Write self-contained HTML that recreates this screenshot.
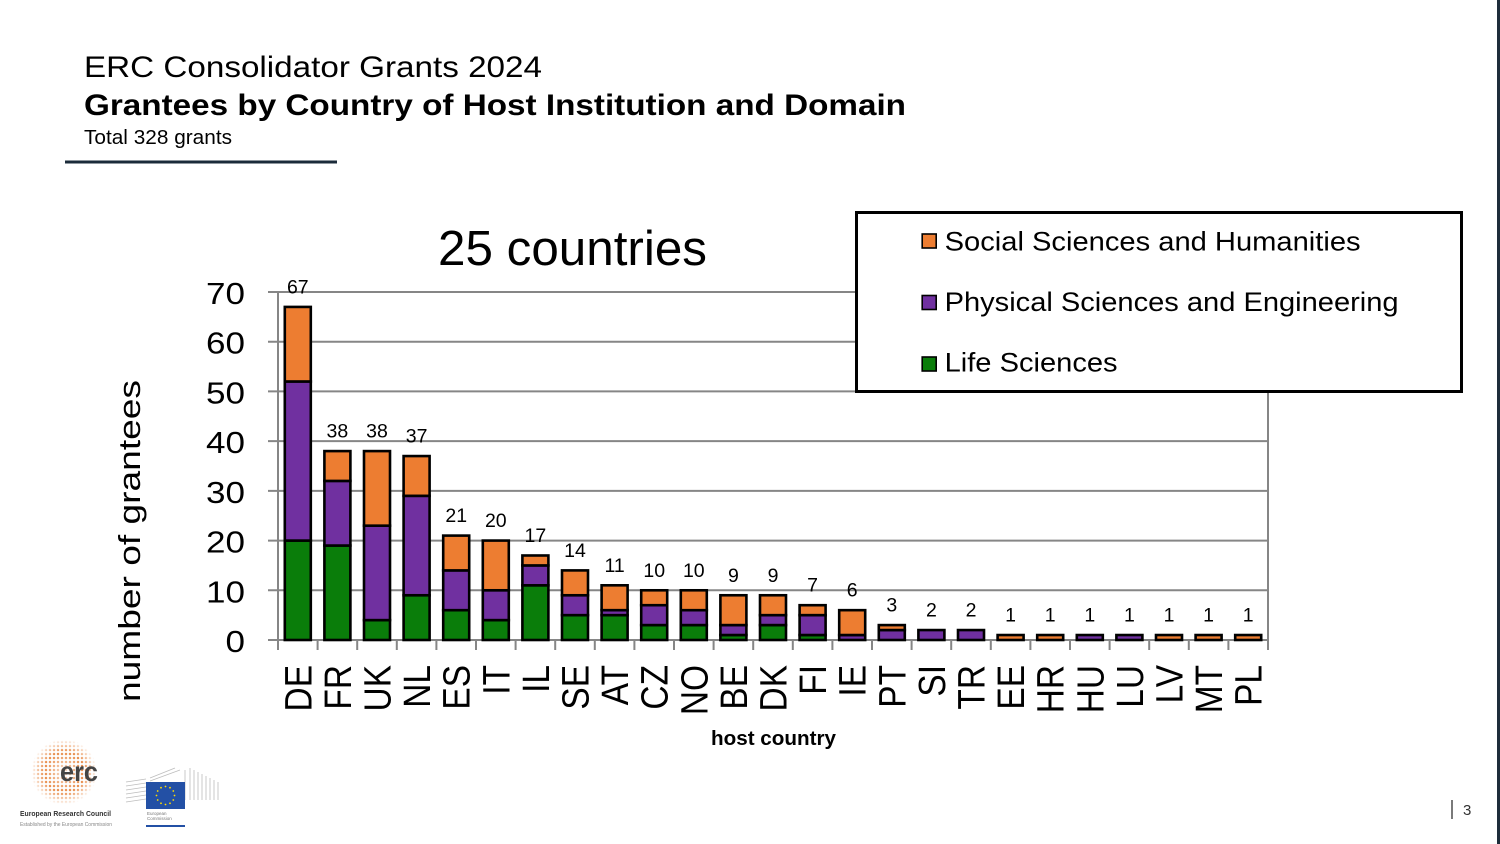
<!DOCTYPE html>
<html><head><meta charset="utf-8"><style>
html,body{margin:0;padding:0;background:#fff;}
svg{display:block;font-family:"Liberation Sans",Arial,sans-serif;}
</style></head><body>
<svg width="1500" height="844" viewBox="0 0 1500 844" xmlns="http://www.w3.org/2000/svg">
<defs>
<pattern id="dots" width="4" height="4" patternUnits="userSpaceOnUse"><circle cx="2" cy="2" r="1.25" fill="#e6823a"/></pattern>
<radialGradient id="fade" cx="0.5" cy="0.5" r="0.5">
<stop offset="0" stop-color="#fff" stop-opacity="0.25"/>
<stop offset="0.6" stop-color="#fff" stop-opacity="0.9"/>
<stop offset="1" stop-color="#fff" stop-opacity="0"/>
</radialGradient>
<mask id="m"><circle cx="64" cy="772" r="33" fill="url(#fade)"/></mask>
</defs>
<rect width="1500" height="844" fill="#fff"/>
<rect x="1497" y="0" width="3" height="844" fill="#1e2d3b"/>

<!-- Titles -->
<text x="84" y="77" font-size="30" fill="#000" textLength="458" lengthAdjust="spacingAndGlyphs">ERC Consolidator Grants 2024</text>
<text x="84" y="115" font-size="30" font-weight="bold" fill="#000" textLength="822" lengthAdjust="spacingAndGlyphs">Grantees by Country of Host Institution and Domain</text>
<text x="84" y="144" font-size="20.5" fill="#000" textLength="148" lengthAdjust="spacingAndGlyphs">Total 328 grants</text>
<rect x="65" y="160.5" width="272" height="3" fill="#1b2b3a"/>

<text x="438" y="265" font-size="49" fill="#000" textLength="269" lengthAdjust="spacingAndGlyphs">25 countries</text>

<!-- gridlines -->
<g stroke="#868686" stroke-width="2">
<line x1="268" y1="292" x2="1268" y2="292"/>
<line x1="268" y1="341.71" x2="1268" y2="341.71"/>
<line x1="268" y1="391.43" x2="1268" y2="391.43"/>
<line x1="268" y1="441.14" x2="1268" y2="441.14"/>
<line x1="268" y1="490.86" x2="1268" y2="490.86"/>
<line x1="268" y1="540.57" x2="1268" y2="540.57"/>
<line x1="268" y1="590.29" x2="1268" y2="590.29"/>
<line x1="268" y1="640" x2="1268" y2="640"/>
<line x1="278" y1="292" x2="278" y2="650"/>
<line x1="1268" y1="292" x2="1268" y2="650"/>
</g>
<g stroke="#868686" stroke-width="2">
<line x1="317.6" y1="640" x2="317.6" y2="650"/><line x1="357.2" y1="640" x2="357.2" y2="650"/><line x1="396.8" y1="640" x2="396.8" y2="650"/><line x1="436.4" y1="640" x2="436.4" y2="650"/><line x1="476" y1="640" x2="476" y2="650"/><line x1="515.6" y1="640" x2="515.6" y2="650"/><line x1="555.2" y1="640" x2="555.2" y2="650"/><line x1="594.8" y1="640" x2="594.8" y2="650"/><line x1="634.4" y1="640" x2="634.4" y2="650"/><line x1="674" y1="640" x2="674" y2="650"/><line x1="713.6" y1="640" x2="713.6" y2="650"/><line x1="753.2" y1="640" x2="753.2" y2="650"/><line x1="792.8" y1="640" x2="792.8" y2="650"/><line x1="832.4" y1="640" x2="832.4" y2="650"/><line x1="872" y1="640" x2="872" y2="650"/><line x1="911.6" y1="640" x2="911.6" y2="650"/><line x1="951.2" y1="640" x2="951.2" y2="650"/><line x1="990.8" y1="640" x2="990.8" y2="650"/><line x1="1030.4" y1="640" x2="1030.4" y2="650"/><line x1="1070" y1="640" x2="1070" y2="650"/><line x1="1109.6" y1="640" x2="1109.6" y2="650"/><line x1="1149.2" y1="640" x2="1149.2" y2="650"/><line x1="1188.8" y1="640" x2="1188.8" y2="650"/><line x1="1228.4" y1="640" x2="1228.4" y2="650"/>
</g>

<!-- y tick labels -->
<g font-size="31" fill="#000" text-anchor="end">
<text x="245" y="304" textLength="39" lengthAdjust="spacingAndGlyphs">70</text>
<text x="245" y="353.7" textLength="39" lengthAdjust="spacingAndGlyphs">60</text>
<text x="245" y="403.4" textLength="39" lengthAdjust="spacingAndGlyphs">50</text>
<text x="245" y="453.1" textLength="39" lengthAdjust="spacingAndGlyphs">40</text>
<text x="245" y="502.9" textLength="39" lengthAdjust="spacingAndGlyphs">30</text>
<text x="245" y="552.6" textLength="39" lengthAdjust="spacingAndGlyphs">20</text>
<text x="245" y="602.3" textLength="39" lengthAdjust="spacingAndGlyphs">10</text>
<text x="245" y="652" textLength="19.5" lengthAdjust="spacingAndGlyphs">0</text>
</g>
<text transform="translate(140,541) rotate(-90)" text-anchor="middle" font-size="31" fill="#000" textLength="322" lengthAdjust="spacingAndGlyphs">number of grantees</text>

<!-- bars -->
<g stroke="#000" stroke-width="2.6">
<rect x="284.8" y="540.57" width="26" height="99.43" fill="#0a7d0a"/>
<rect x="284.8" y="381.49" width="26" height="159.08" fill="#7030a0"/>
<rect x="284.8" y="306.92" width="26" height="74.57" fill="#ed7d31"/>
<rect x="324.4" y="545.54" width="26" height="94.46" fill="#0a7d0a"/>
<rect x="324.4" y="480.91" width="26" height="64.63" fill="#7030a0"/>
<rect x="324.4" y="451.09" width="26" height="29.83" fill="#ed7d31"/>
<rect x="364" y="620.11" width="26" height="19.89" fill="#0a7d0a"/>
<rect x="364" y="525.66" width="26" height="94.46" fill="#7030a0"/>
<rect x="364" y="451.09" width="26" height="74.57" fill="#ed7d31"/>
<rect x="403.6" y="595.26" width="26" height="44.74" fill="#0a7d0a"/>
<rect x="403.6" y="495.83" width="26" height="99.43" fill="#7030a0"/>
<rect x="403.6" y="456.06" width="26" height="39.77" fill="#ed7d31"/>
<rect x="443.2" y="610.17" width="26" height="29.83" fill="#0a7d0a"/>
<rect x="443.2" y="570.40" width="26" height="39.77" fill="#7030a0"/>
<rect x="443.2" y="535.60" width="26" height="34.80" fill="#ed7d31"/>
<rect x="482.8" y="620.11" width="26" height="19.89" fill="#0a7d0a"/>
<rect x="482.8" y="590.29" width="26" height="29.83" fill="#7030a0"/>
<rect x="482.8" y="540.57" width="26" height="49.71" fill="#ed7d31"/>
<rect x="522.4" y="585.31" width="26" height="54.69" fill="#0a7d0a"/>
<rect x="522.4" y="565.43" width="26" height="19.89" fill="#7030a0"/>
<rect x="522.4" y="555.49" width="26" height="9.94" fill="#ed7d31"/>
<rect x="562" y="615.14" width="26" height="24.86" fill="#0a7d0a"/>
<rect x="562" y="595.26" width="26" height="19.89" fill="#7030a0"/>
<rect x="562" y="570.40" width="26" height="24.86" fill="#ed7d31"/>
<rect x="601.6" y="615.14" width="26" height="24.86" fill="#0a7d0a"/>
<rect x="601.6" y="610.17" width="26" height="4.97" fill="#7030a0"/>
<rect x="601.6" y="585.31" width="26" height="24.86" fill="#ed7d31"/>
<rect x="641.2" y="625.09" width="26" height="14.91" fill="#0a7d0a"/>
<rect x="641.2" y="605.20" width="26" height="19.89" fill="#7030a0"/>
<rect x="641.2" y="590.29" width="26" height="14.91" fill="#ed7d31"/>
<rect x="680.8" y="625.09" width="26" height="14.91" fill="#0a7d0a"/>
<rect x="680.8" y="610.17" width="26" height="14.91" fill="#7030a0"/>
<rect x="680.8" y="590.29" width="26" height="19.89" fill="#ed7d31"/>
<rect x="720.4" y="635.03" width="26" height="4.97" fill="#0a7d0a"/>
<rect x="720.4" y="625.09" width="26" height="9.94" fill="#7030a0"/>
<rect x="720.4" y="595.26" width="26" height="29.83" fill="#ed7d31"/>
<rect x="760" y="625.09" width="26" height="14.91" fill="#0a7d0a"/>
<rect x="760" y="615.14" width="26" height="9.94" fill="#7030a0"/>
<rect x="760" y="595.26" width="26" height="19.89" fill="#ed7d31"/>
<rect x="799.6" y="635.03" width="26" height="4.97" fill="#0a7d0a"/>
<rect x="799.6" y="615.14" width="26" height="19.89" fill="#7030a0"/>
<rect x="799.6" y="605.20" width="26" height="9.94" fill="#ed7d31"/>
<rect x="839.2" y="635.03" width="26" height="4.97" fill="#7030a0"/>
<rect x="839.2" y="610.17" width="26" height="24.86" fill="#ed7d31"/>
<rect x="878.8" y="630.06" width="26" height="9.94" fill="#7030a0"/>
<rect x="878.8" y="625.09" width="26" height="4.97" fill="#ed7d31"/>
<rect x="918.4" y="630.06" width="26" height="9.94" fill="#7030a0"/>
<rect x="958" y="630.06" width="26" height="9.94" fill="#7030a0"/>
<rect x="997.6" y="635.03" width="26" height="4.97" fill="#ed7d31"/>
<rect x="1037.2" y="635.03" width="26" height="4.97" fill="#ed7d31"/>
<rect x="1076.8" y="635.03" width="26" height="4.97" fill="#7030a0"/>
<rect x="1116.4" y="635.03" width="26" height="4.97" fill="#7030a0"/>
<rect x="1156" y="635.03" width="26" height="4.97" fill="#ed7d31"/>
<rect x="1195.6" y="635.03" width="26" height="4.97" fill="#ed7d31"/>
<rect x="1235.2" y="635.03" width="26" height="4.97" fill="#ed7d31"/>
</g>

<!-- data labels -->
<g font-size="19.5" fill="#000" text-anchor="middle">
<text x="297.8" y="293.4">67</text>
<text x="337.4" y="437.6">38</text>
<text x="377" y="437.6">38</text>
<text x="416.6" y="442.6">37</text>
<text x="456.2" y="522.1">21</text>
<text x="495.8" y="527.1">20</text>
<text x="535.4" y="542">17</text>
<text x="575" y="556.9">14</text>
<text x="614.6" y="571.8">11</text>
<text x="654.2" y="576.8">10</text>
<text x="693.8" y="576.8">10</text>
<text x="733.4" y="581.8">9</text>
<text x="773" y="581.8">9</text>
<text x="812.6" y="591.7">7</text>
<text x="852.2" y="596.7">6</text>
<text x="891.8" y="611.6">3</text>
<text x="931.4" y="616.6">2</text>
<text x="971" y="616.6">2</text>
<text x="1010.6" y="621.5">1</text>
<text x="1050.2" y="621.5">1</text>
<text x="1089.8" y="621.5">1</text>
<text x="1129.4" y="621.5">1</text>
<text x="1169" y="621.5">1</text>
<text x="1208.6" y="621.5">1</text>
<text x="1248.2" y="621.5">1</text>
</g>

<!-- x labels -->
<g font-size="38" fill="#000" text-anchor="end">
<text transform="translate(311.3,665) rotate(-90) scale(0.88,1)">DE</text>
<text transform="translate(350.9,665) rotate(-90) scale(0.88,1)">FR</text>
<text transform="translate(390.5,665) rotate(-90) scale(0.88,1)">UK</text>
<text transform="translate(430.1,665) rotate(-90) scale(0.88,1)">NL</text>
<text transform="translate(469.7,665) rotate(-90) scale(0.88,1)">ES</text>
<text transform="translate(509.3,665) rotate(-90) scale(0.88,1)">IT</text>
<text transform="translate(548.9,665) rotate(-90) scale(0.88,1)">IL</text>
<text transform="translate(588.5,665) rotate(-90) scale(0.88,1)">SE</text>
<text transform="translate(628.1,665) rotate(-90) scale(0.88,1)">AT</text>
<text transform="translate(667.7,665) rotate(-90) scale(0.88,1)">CZ</text>
<text transform="translate(707.3,665) rotate(-90) scale(0.88,1)">NO</text>
<text transform="translate(746.9,665) rotate(-90) scale(0.88,1)">BE</text>
<text transform="translate(786.5,665) rotate(-90) scale(0.88,1)">DK</text>
<text transform="translate(826.1,665) rotate(-90) scale(0.88,1)">FI</text>
<text transform="translate(865.7,665) rotate(-90) scale(0.88,1)">IE</text>
<text transform="translate(905.3,665) rotate(-90) scale(0.88,1)">PT</text>
<text transform="translate(944.9,665) rotate(-90) scale(0.88,1)">SI</text>
<text transform="translate(984.5,665) rotate(-90) scale(0.88,1)">TR</text>
<text transform="translate(1024.1,665) rotate(-90) scale(0.88,1)">EE</text>
<text transform="translate(1063.7,665) rotate(-90) scale(0.88,1)">HR</text>
<text transform="translate(1103.3,665) rotate(-90) scale(0.88,1)">HU</text>
<text transform="translate(1142.9,665) rotate(-90) scale(0.88,1)">LU</text>
<text transform="translate(1182.5,665) rotate(-90) scale(0.88,1)">LV</text>
<text transform="translate(1222.1,665) rotate(-90) scale(0.88,1)">MT</text>
<text transform="translate(1261.7,665) rotate(-90) scale(0.88,1)">PL</text>
</g>
<text x="773.5" y="745" font-size="20" font-weight="bold" fill="#000" text-anchor="middle" textLength="125" lengthAdjust="spacingAndGlyphs">host country</text>

<!-- legend -->
<rect x="856.5" y="212.5" width="605" height="179" fill="#fff" stroke="#000" stroke-width="3"/>
<g stroke="#000" stroke-width="1.6">
<rect x="922.2" y="234" width="14" height="14" fill="#ed7d31"/>
<rect x="922.2" y="295.5" width="14" height="14" fill="#7030a0"/>
<rect x="922.2" y="357" width="14" height="14" fill="#0a7d0a"/>
</g>
<g font-size="27" fill="#000">
<text x="944.6" y="250.5" textLength="416" lengthAdjust="spacingAndGlyphs">Social Sciences and Humanities</text>
<text x="944.6" y="311" textLength="454" lengthAdjust="spacingAndGlyphs">Physical Sciences and Engineering</text>
<text x="944.6" y="371.7" textLength="173" lengthAdjust="spacingAndGlyphs">Life Sciences</text>
</g>

<!-- page number -->
<line x1="1452" y1="800" x2="1452" y2="819" stroke="#333" stroke-width="1.3"/>
<text x="1463" y="815" font-size="15" fill="#333">3</text>

<!-- ERC logo -->
<circle cx="64" cy="772" r="33" fill="url(#dots)" mask="url(#m)"/>
<text x="60" y="781" font-size="28" font-weight="bold" fill="#444" textLength="38" lengthAdjust="spacingAndGlyphs">erc</text>
<text x="20" y="816" font-size="7.5" font-weight="bold" fill="#333" textLength="91" lengthAdjust="spacingAndGlyphs">European Research Council</text>
<text x="20" y="826" font-size="5.5" fill="#888" textLength="92" lengthAdjust="spacingAndGlyphs">Established by the European Commission</text>

<!-- EU logo -->
<g stroke="#bdbdbd" stroke-width="0.8" fill="none">
<line x1="126" y1="782" x2="146" y2="779"/><line x1="126" y1="786" x2="146" y2="783"/><line x1="126" y1="790" x2="146" y2="787"/><line x1="126" y1="794" x2="146" y2="791"/><line x1="126" y1="798" x2="146" y2="795"/><line x1="126" y1="802" x2="146" y2="799"/>
<line x1="150" y1="778" x2="175" y2="768"/><line x1="150" y1="781" x2="180" y2="770"/><line x1="185" y1="770" x2="185" y2="800"/>
<line x1="190" y1="768" x2="190" y2="800"/><line x1="194" y1="770" x2="194" y2="800"/><line x1="198" y1="772" x2="198" y2="800"/><line x1="202" y1="774" x2="202" y2="800"/><line x1="206" y1="776" x2="206" y2="800"/><line x1="210" y1="778" x2="210" y2="800"/><line x1="214" y1="780" x2="214" y2="800"/><line x1="218" y1="782" x2="218" y2="800"/>
</g>
<rect x="146" y="782" width="39" height="27" fill="#2350a5"/>
<g fill="#ffdd00">
<circle cx="165.5" cy="786.5" r="0.9"/><circle cx="170" cy="787.7" r="0.9"/><circle cx="173.3" cy="791" r="0.9"/><circle cx="174.5" cy="795.5" r="0.9"/><circle cx="173.3" cy="800" r="0.9"/><circle cx="170" cy="803.3" r="0.9"/><circle cx="165.5" cy="804.5" r="0.9"/><circle cx="161" cy="803.3" r="0.9"/><circle cx="157.7" cy="800" r="0.9"/><circle cx="156.5" cy="795.5" r="0.9"/><circle cx="157.7" cy="791" r="0.9"/><circle cx="161" cy="787.7" r="0.9"/>
</g>
<text x="147" y="815" font-size="4.5" fill="#777">European</text>
<text x="147" y="820" font-size="4.5" fill="#777">Commission</text>
<rect x="146" y="825" width="39" height="2" fill="#2350a5"/>
</svg>
</body></html>
